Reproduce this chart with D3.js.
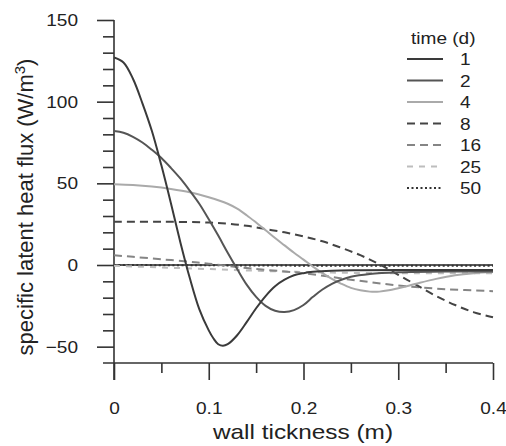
<html lang="en">
  <head>
    <meta charset="utf-8">
    <title>latent heat flux</title>
    <script src="https://d3js.org/d3.v7.min.js"></script>
    <style>
      body { margin: 0; background: #fff; }
      text { font-family: "Liberation Sans", Arial, sans-serif; fill: #222; }
    </style>
  </head>
  <body>
    <script type="text/javascript">
      var w = 506;
      var h = 446;

      // data
      var times = ["1", "2", "4", "8", "16", "25", "50"];
      var x1 = [0, 0.01, 0.02, 0.03, 0.04, 0.05, 0.06, 0.07, 0.08, 0.09, 0.1, 0.105, 0.11, 0.115, 0.12, 0.13, 0.14, 0.15, 0.16, 0.17, 0.18, 0.19, 0.2, 0.21, 0.23, 0.26, 0.3, 0.35, 0.4];
      var y1 = [127, 124, 114, 99, 82, 61, 38, 14, -8, -27, -40, -45, -48.5, -49.5, -48.5, -43, -35, -26.5, -19, -13, -9, -6.3, -5, -4.2, -3.5, -3.2, -3, -3, -3];
      var x2 = [0, 0.01, 0.02, 0.03, 0.04, 0.05, 0.06, 0.07, 0.08, 0.09, 0.1, 0.11, 0.12, 0.13, 0.14, 0.15, 0.16, 0.17, 0.18, 0.19, 0.2, 0.21, 0.22, 0.23, 0.24, 0.25, 0.27, 0.3, 0.35, 0.4];
      var y2 = [82, 81, 78.5, 75, 70.5, 65.5, 59.5, 53, 45.5, 37.5, 28, 18, 7.5, -2.5, -12, -19.5, -25, -28, -28.8, -27.6, -24.5, -19.5, -15, -11.5, -9, -7.2, -5.5, -4.5, -4, -4];
      var x4 = [0, 0.02, 0.04, 0.06, 0.08, 0.1, 0.12, 0.13, 0.14, 0.15, 0.16, 0.17, 0.18, 0.19, 0.2, 0.21, 0.22, 0.23, 0.24, 0.25, 0.26, 0.27, 0.28, 0.29, 0.3, 0.31, 0.32, 0.34, 0.36, 0.38, 0.4];
      var y4 = [49.5, 49, 48, 46.5, 44.5, 41.5, 37.5, 34.5, 30.5, 26, 21.3, 16.5, 12, 7.5, 3.3, -1, -5, -8.5, -11.5, -14, -15.5, -16.3, -16.3, -15.5, -14.2, -12.8, -11.3, -8.5, -6.3, -5, -4.3];
      var x8 = [0, 0.05, 0.1, 0.12, 0.14, 0.16, 0.18, 0.2, 0.22, 0.24, 0.26, 0.28, 0.3, 0.32, 0.34, 0.36, 0.38, 0.4];
      var y8 = [26.5, 26.5, 26, 25.3, 24, 22, 20, 17.5, 14.5, 10.5, 6, 0.5, -6, -12.5, -19, -24.5, -29, -32];
      var x16 = [0, 0.02, 0.05, 0.08, 0.1, 0.15, 0.2, 0.25, 0.3, 0.35, 0.4];
      var y16 = [6, 5, 3.5, 2, 0.8, -2.5, -5, -9, -12.5, -14.8, -16];
      var x25 = [0, 0.05, 0.1, 0.15, 0.2, 0.25, 0.3, 0.35, 0.4];
      var y25 = [-0.5, -1.5, -2.5, -3.5, -4.3, -4.8, -5, -5, -5];
      var x50 = [0, 0.1, 0.2, 0.3, 0.4];
      var y50 = [0, -0.2, -0.4, -0.5, -0.5];
      var xTicks = [0, 0.1, 0.2, 0.3, 0.4];
      var yTicks = [-50, 0, 50, 100, 150];

      var xs = [x1, x2, x4, x8, x16, x25, x50];
      var ys = [y1, y2, y4, y8, y16, y25, y50];
      var colors = ["#3a3a3a", "#555", "#aaa", "#444", "#858585", "#bdbdbd", "#333"];
      var dashes = [null, null, null, "8,5", "8,5", "6,6", "2,2.5"];

      var xScale = d3.scaleLinear().domain([0, 0.4]).range([114, 493]);
      var yScale = d3.scaleLinear().domain([-60, 150]).range([363, 20]);

      var svg = d3.select("body")
          .append("svg")
          .attr("width", w)
          .attr("height", h);

      // the source picture is a bit wider than tall, so text is stretched sideways
      function stretch(sel, k) {
        sel.each(function() {
          var l = this.getComputedTextLength();
          d3.select(this).attr("textLength", l * k).attr("lengthAdjust", "spacingAndGlyphs");
        });
      }

      // minor ticks
      var yMinor = d3.axisLeft(yScale)
          .tickValues(d3.range(-50, 151, 10).filter(function(v) { return v % 50 != 0; }))
          .tickSize(11).tickFormat("");
      var xMinor = d3.axisBottom(xScale)
          .tickValues([0.05, 0.15, 0.25, 0.35])
          .tickSize(10).tickFormat("");
      var yAxis = d3.axisLeft(yScale).tickValues(yTicks).tickSize(17);
      var xAxis = d3.axisBottom(xScale).tickValues(xTicks).tickSize(17).tickPadding(22)
          .tickFormat(function(d) { return d === 0 ? "0" : d3.format(".1f")(d); });

      function styleAxis(g) {
        g.select(".domain").remove();
        g.selectAll("line").attr("stroke", "#333").attr("stroke-width", 1.6);
        g.selectAll("text").style("font-size", "17px").attr("fill", "#222");
      }

      svg.append("g").attr("transform", "translate(114,0)").call(yMinor).call(styleAxis);
      var gy = svg.append("g").attr("transform", "translate(114,0)").call(yAxis).call(styleAxis);
      // right edge of the y labels sits well clear of the ticks
      gy.selectAll("text").attr("x", -36).attr("text-anchor", "end").call(stretch, 1.12);
      svg.append("g").attr("transform", "translate(0,363)").call(xMinor).call(styleAxis);
      var gx = svg.append("g").attr("transform", "translate(0,363)").call(xAxis).call(styleAxis);
      gx.selectAll("text").call(stretch, 1.12);

      svg.append("line")
          .attr("x1", xScale(0)).attr("x2", xScale(0))
          .attr("y1", yScale(150)).attr("y2", yScale(-60) + 17)
          .attr("stroke", "#333").attr("stroke-width", 1.6);
      svg.append("line")
          .attr("x1", xScale(0) - 11).attr("x2", xScale(0.4))
          .attr("y1", yScale(-60)).attr("y2", yScale(-60))
          .attr("stroke", "#333").attr("stroke-width", 1.6);

      // zero line
      svg.append("line")
          .attr("x1", xScale(0)).attr("x2", xScale(0.4))
          .attr("y1", yScale(0)).attr("y2", yScale(0))
          .attr("stroke", "#222").attr("stroke-width", 1.6);

      var line = d3.line()
          .x(function(d) { return xScale(d[0]); })
          .y(function(d) { return yScale(d[1]); })
          .curve(d3.curveCatmullRom.alpha(0.5));

      for (var i = times.length - 1; i >= 0; i--) {
        var pts = xs[i].map(function(x, j) { return [x, ys[i][j]]; });
        svg.append("path")
            .datum(pts)
            .attr("d", line)
            .attr("fill", "none")
            .attr("stroke", colors[i])
            .attr("stroke-width", 2)
            .attr("stroke-dasharray", dashes[i]);
      }

      // axis titles
      svg.append("text")
          .attr("x", 303).attr("y", 439)
          .attr("text-anchor", "middle")
          .style("font-size", "21px")
          .text("wall tickness (m)")
          .call(stretch, 1.16);
      var yt = svg.append("text")
          .attr("transform", "translate(33,207) rotate(-90)")
          .attr("text-anchor", "middle")
          .style("font-size", "22px");
      yt.append("tspan").text("specific latent heat flux (W/m");
      yt.append("tspan").attr("dy", -8).style("font-size", "15px").text("3");
      yt.append("tspan").attr("dy", 8).text(")");

      // legend
      svg.append("text")
          .attr("x", 411).attr("y", 44)
          .style("font-size", "17px")
          .text("time (d)")
          .call(stretch, 1.12);
      var leg = svg.selectAll(".leg")
          .data(times)
          .enter()
          .append("g")
          .attr("class", "leg")
          .attr("transform", function(d, i) { return "translate(0," + (59 + i * 21.5) + ")"; });
      leg.append("line")
          .attr("x1", 407).attr("x2", 443)
          .attr("stroke", function(d, i) { return colors[i]; })
          .attr("stroke-width", 2)
          .attr("stroke-dasharray", function(d, i) { return dashes[i]; });
      leg.append("text")
          .attr("x", 460).attr("y", 6)
          .style("font-size", "17px")
          .text(function(d) { return d; })
          .call(stretch, 1.12);
    </script>
  </body>
</html>
